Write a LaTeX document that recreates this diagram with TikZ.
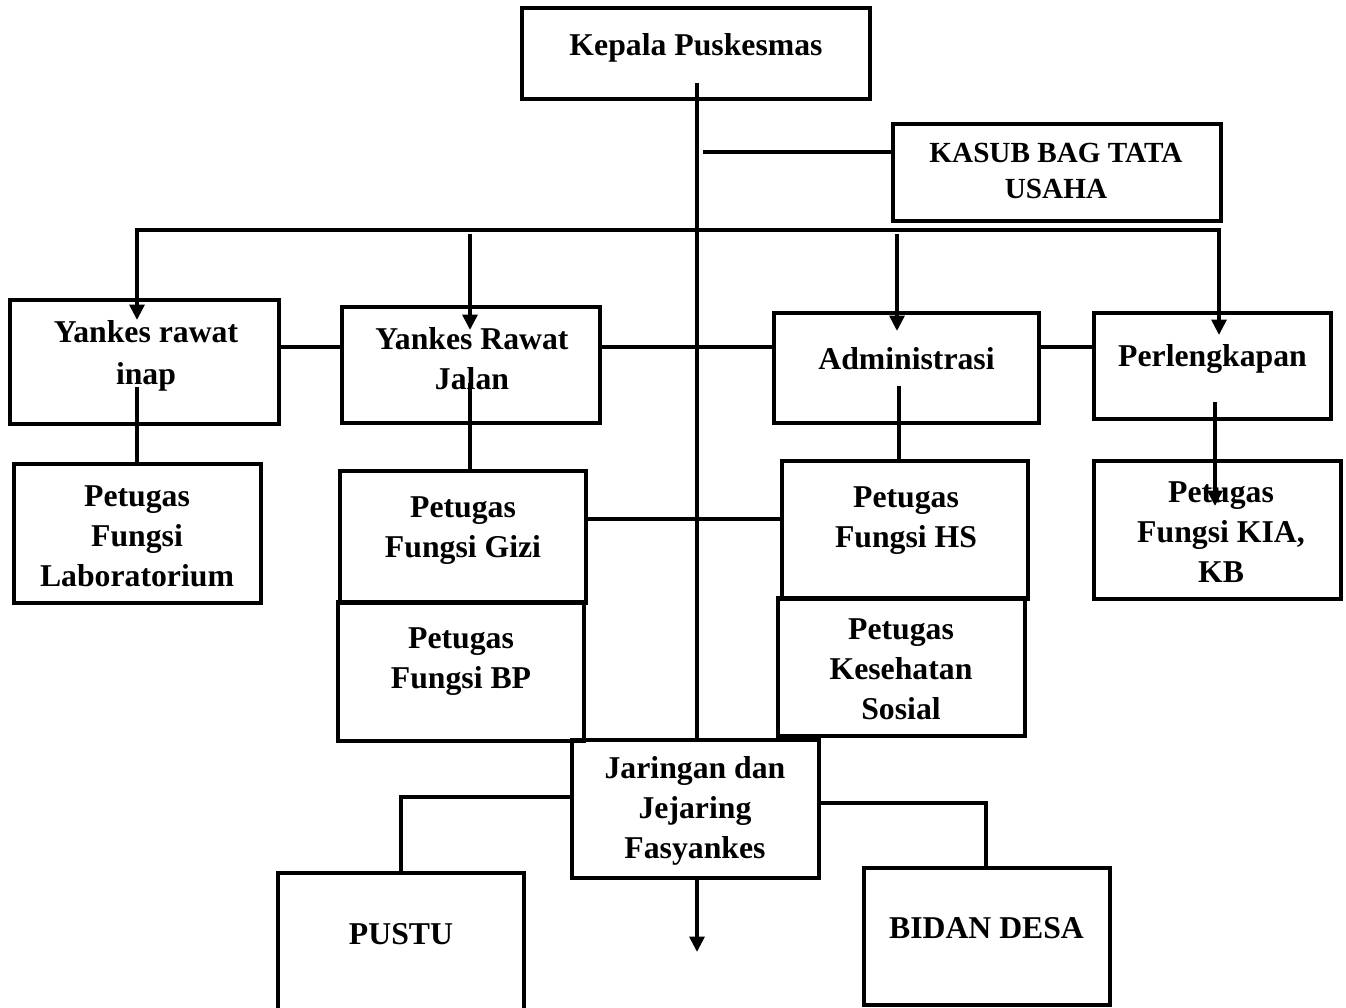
\documentclass[tikz,border=0pt]{standalone}
\usepackage{fontspec}
\setmainfont{Liberation Serif}
\usetikzlibrary{arrows.meta}
\begin{document}
\begin{tikzpicture}[x=0.75pt,y=-0.75pt,
  box/.style={draw, line width=2.3pt, inner sep=0pt, rectangle},
  sz/.style 2 args={minimum width=#1*0.75pt, minimum height=#2*0.75pt},
  txt/.style={align=center, inner sep=0pt, font=\fontsize{23.8}{30}\selectfont\bfseries},
  smalltxt/.style={align=center, inner sep=0pt, font=\fontsize{21.9}{26.5}\selectfont\bfseries},
  conn/.style={line width=2.8pt},
  arr/.style={line width=2.8pt, -{Triangle[length=11.5pt,width=11pt]}}]
\useasboundingbox (0,0) rectangle (1346,1007);
\clip (0,0) rectangle (1346,1007);

% boxes
\node[box, sz={348}{91}]  (kep)   at (696,53.5)   {};
\node[box, sz={328}{97}]  (kasub) at (1057,172.5) {};
\node[box, sz={269}{124}] (yri)   at (144.5,362)  {};
\node[box, sz={258}{116}] (yrj)   at (471,365)    {};
\node[box, sz={265}{110}] (adm)   at (906.5,368)  {};
\node[box, sz={237}{106}] (perl)  at (1212.5,366) {};
\node[box, sz={247}{139}] (lab)   at (137.5,533.5){};
\node[box, sz={246}{132}] (gizi)  at (463,537)    {};
\node[box, sz={246}{139}] (bp)    at (461,671.5)  {};
\node[box, sz={246}{138}] (hs)    at (905,530)    {};
\node[box, sz={247}{138}] (ks)    at (901.5,667)  {};
\node[box, sz={247}{138}] (kia)   at (1217.5,530) {};
\node[box, sz={247}{138}] (jar)   at (695.5,809)  {};
\node[box, sz={246}{150}] (pustu) at (401,948)    {};
\node[box, sz={246}{137}] (bidan) at (987,936.5)  {};

% texts
\node[txt] (kep-t)   at (696,48)     {Kepala Puskesmas};
\node[smalltxt] (kasub-t) at (1056,171) {KASUB BAG TATA\\USAHA};
\node[txt, font=\fontsize{23.8}{31.5}\selectfont\bfseries] (yri-t) at (146,356) {Yankes rawat\\inap};
\node[txt] (yrj-t)   at (472,359)    {Yankes Rawat\\Jalan};
\node[txt] (adm-t)   at (906.5,359)  {Administrasi};
\node[txt] (perl-t)  at (1212.5,359) {Perlengkapan};
\node[txt] (lab-t)   at (137,536.5)  {Petugas\\Fungsi\\Laboratorium};
\node[txt] (gizi-t)  at (463,531)    {Petugas\\Fungsi Gizi};
\node[txt] (bp-t)    at (461,662)    {Petugas\\Fungsi BP};
\node[txt] (hs-t)    at (906,521)    {Petugas\\Fungsi HS};
\node[txt] (ks-t)    at (901,669)    {Petugas\\Kesehatan\\Sosial};
\node[txt] (kia-t)   at (1221,532.5) {Petugas\\Fungsi KIA,\\KB};
\node[txt] (jar-t)   at (695,811)    {Jaringan dan\\Jejaring\\Fasyankes};
\node[txt] (pustu-t) at (401,934)    {PUSTU};
\node[txt] (bidan-t) at (986.5,928)  {BIDAN DESA};

% free ends
\coordinate (trunkTop) at (697,83);
\coordinate (kasubL)   at (703,152);
\coordinate (busL)     at (137,230);
\coordinate (busR)     at (1219,230);
\coordinate (tipYri)   at (137,320);
\coordinate (tipPerl)  at (1219,335);
\coordinate (yrjA)     at (470,234);
\coordinate (tipYrj)   at (470,330);
\coordinate (admA)     at (897,234);
\coordinate (tipAdm)   at (897,331);
\coordinate (yriD)     at (137,387);
\coordinate (yrjD)     at (470,383);
\coordinate (admD)     at (899,386);
\coordinate (perlD)    at (1215,402);
\coordinate (tipKia)   at (1215,506);
\coordinate (pustuC)   at (401,797);
\coordinate (bidanC)   at (986,803);
\coordinate (tipJar)   at (697,952);

% connectors
\draw[conn] (trunkTop) -- (trunkTop |- jar.north);
\draw[conn] (kasubL) -- (kasubL -| kasub.west);
\draw[line width=2.8pt, {Triangle[length=11.5pt,width=11pt]}-{Triangle[length=11.5pt,width=11pt]}]
  (tipYri) -- (busL) -- (busR) -- (tipPerl);
\draw[arr] (yrjA) -- (tipYrj);
\draw[arr] (admA) -- (tipAdm);
\draw[conn] (yri.east |- 0,347) -- (yrj.west |- 0,347);
\draw[conn] (yrj.east |- 0,347) -- (adm.west |- 0,347);
\draw[conn] (adm.east |- 0,347) -- (perl.west |- 0,347);
\draw[conn] (yriD) -- (yriD |- lab.north);
\draw[conn] (yrjD) -- (yrjD |- gizi.north);
\draw[conn] (admD) -- (admD |- hs.north);
\draw[arr] (perlD) -- (tipKia);
\draw[conn] (gizi.east |- 0,519) -- (hs.west |- 0,519);
\draw[conn] (jar.west |- pustuC) -- (pustuC) -- (pustuC |- pustu.north);
\draw[conn] (jar.east |- bidanC) -- (bidanC) -- (bidanC |- bidan.north);
\draw[arr] (jar.south -| tipJar) -- (tipJar);
\end{tikzpicture}
\end{document}
